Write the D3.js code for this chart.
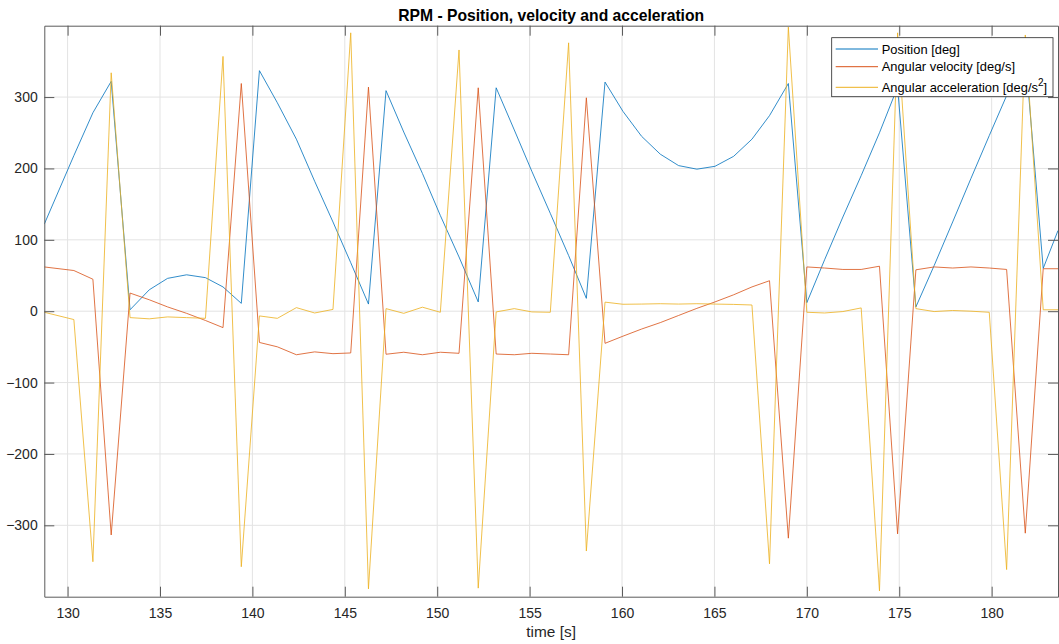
<!DOCTYPE html>
<html>
<head>
<meta charset="utf-8">
<script src="https://cdn.jsdelivr.net/npm/d3@7"></script>
<style>
	body { margin: 0; background: #fff; }
	svg { display: block; font-family: 'Liberation Sans', Arial, sans-serif; }
</style>
</head>
<body>
<svg id="chart" width="1059" height="644"></svg>
<script>
const time = [128.74, 130.34, 131.37, 132.36, 133.38, 134.42, 135.41, 136.44, 137.46, 138.41,
	139.40, 140.38, 141.35, 142.38, 143.37, 144.36, 145.32, 146.28, 147.23, 148.19,
	149.20, 150.17, 151.18, 152.22, 153.19, 154.17, 155.12, 156.12, 157.11, 158.07,
	159.08, 160.05, 161.06, 162.07, 163.06, 164.05, 165.03, 166.04, 167.03, 167.98,
	169.00, 170.00, 170.96, 171.95, 172.94, 173.93, 174.91, 175.90, 176.89, 177.89,
	178.88, 179.87, 180.81, 181.82, 182.79, 183.59];

const position = [122, 218, 278, 322, 2, 30, 46, 51, 47, 34,
	11, 337, 292, 241, 182, 125, 68, 10, 309, 251,
	193, 134, 76, 13, 313, 254, 196, 137, 78, 18,
	321, 280, 245, 220, 204, 199, 203, 217, 241, 274,
	319, 12, 72, 132, 190, 250, 314, 6, 64, 125,
	186, 246, 302, 360, 60, 113];

const velocity = [62, 57, 44.8, -313.5, 25.4, 16, 6, -3, -13, -23,
	319, -43.8, -49.9, -61, -57, -59.5, -58.5, 314, -60.3, -57.5,
	-61, -57.5, -59, 313, -60, -61, -59, -60, -61, 299,
	-45, -35, -25, -16, -6, 4, 13, 23, 34, 42.7,
	-318, 62, 60.5, 58.5, 58.5, 63, -312, 58, 62, 60.5,
	62, 60.5, 58.5, -311, 59.5, 59.5];

const acceleration = [-1.5, -11.7, -351, 334, -9, -10.7, -8, -9, -10, 357,
	-358, -6.6, -10, 5, -2.5, 2.5, 390, -389, 3.6, -3,
	5.6, -1.5, 366, -388, -1, 3.6, -1, -1.5, 376, -336,
	12.7, 9.7, 10, 10.5, 10, 10.5, 10, 9.5, 8.7, -354,
	398, -1.5, -2.5, -0.5, 4.6, -392, 390, 3.6, -0.5, 1,
	0, -1.5, -362, 387, 2, 2];

const seriesNames = ['Position [deg]', 'Angular velocity [deg/s]', 'Angular acceleration [deg/s'];
const seriesColors = ['#0072BD', '#D95319', '#EDB120'];
const xTicks = [130, 135, 140, 145, 150, 155, 160, 165, 170, 175, 180];
const yTicks = [-300, -200, -100, 0, 100, 200, 300];

let plotLeft = 44.3, plotRight = 1058, plotTop = 25.7, plotBottom = 596.7;

let svg = d3.select('#chart');

let x = d3.scaleLinear()
	.domain([128.74, 183.59])
	.range([plotLeft, plotRight]);

let y = d3.scaleLinear()
	.domain([-400, 400])
	.range([plotBottom, plotTop]);

// grid
let grid = svg.append('g').attr('class', 'grid');
grid.selectAll('line.vx')
	.data(xTicks)
	.enter()
	.append('line')
	.attr('x1', d => x(d)).attr('x2', d => x(d))
	.attr('y1', plotTop).attr('y2', plotBottom)
	.attr('stroke', '#e3e3e3');
grid.selectAll('line.hy')
	.data(yTicks)
	.enter()
	.append('line')
	.attr('x1', plotLeft).attr('x2', plotRight)
	.attr('y1', d => y(d)).attr('y2', d => y(d))
	.attr('stroke', '#e3e3e3');

svg.append('clipPath')
	.attr('id', 'plotclip')
	.append('rect')
	.attr('x', plotLeft).attr('y', plotTop)
	.attr('width', plotRight - plotLeft).attr('height', plotBottom - plotTop);

let line = d3.line()
	.x((d, i) => x(time[i]))
	.y(d => y(d));

let series = [position, velocity, acceleration];
svg.append('g')
	.attr('clip-path', 'url(#plotclip)')
	.selectAll('path')
	.data(series)
	.enter()
	.append('path')
	.attr('d', d => line(d))
	.attr('fill', 'none')
	.attr('stroke', (d, i) => seriesColors[i])
	.attr('stroke-width', 0.9)
	.attr('stroke-opacity', 0.9);

// axes, ticks pointing inward like matlab
let axisColor = '#5a5a5a';
function styleAxis(g) {
	g.select('.domain').attr('stroke', axisColor);
	g.selectAll('.tick line').attr('stroke', axisColor);
	g.selectAll('.tick text')
		.attr('fill', '#262626')
		.style('font-size', '14px')
		.style('font-family', "'Liberation Sans', Arial, sans-serif");
}

svg.append('g')
	.attr('transform', 'translate(0,' + plotBottom + ')')
	.call(d3.axisBottom(x).tickValues(xTicks).tickSize(-10).tickSizeOuter(0).tickPadding(11.5))
	.call(styleAxis);

svg.append('g')
	.attr('transform', 'translate(0,' + plotTop + ')')
	.call(d3.axisTop(x).tickValues(xTicks).tickSize(-10).tickSizeOuter(0).tickFormat(''))
	.call(styleAxis);

svg.append('g')
	.attr('transform', 'translate(' + plotLeft + ',0)')
	.call(d3.axisLeft(y).tickValues(yTicks).tickSize(-10).tickSizeOuter(0).tickPadding(6.6))
	.call(styleAxis);

svg.append('g')
	.attr('transform', 'translate(' + plotRight + ',0)')
	.call(d3.axisRight(y).tickValues(yTicks).tickSize(-10).tickSizeOuter(0).tickFormat(''))
	.call(styleAxis);

// title and label
svg.append('text')
	.attr('x', (plotLeft + plotRight) / 2)
	.attr('y', 20.5)
	.attr('text-anchor', 'middle')
	.style('font-size', '15.7px')
	.style('font-weight', 'bold')
	.attr('fill', '#000')
	.text('RPM - Position, velocity and acceleration');

svg.append('text')
	.attr('x', (plotLeft + plotRight) / 2)
	.attr('y', 637)
	.attr('text-anchor', 'middle')
	.style('font-size', '15.4px')
	.attr('fill', '#262626')
	.text('time [s]');

// legend
let legend = svg.append('g');
legend.append('rect')
	.attr('x', 831.7).attr('y', 37.7)
	.attr('width', 221.3).attr('height', 59)
	.attr('fill', '#fff')
	.attr('stroke', '#262626')
	.attr('stroke-width', 0.8);

let rowY = [49, 66.7, 87.3];
legend.selectAll('line')
	.data(seriesNames)
	.enter()
	.append('line')
	.attr('x1', 835.7).attr('x2', 878)
	.attr('y1', (d, i) => rowY[i]).attr('y2', (d, i) => rowY[i])
	.attr('stroke', (d, i) => seriesColors[i])
	.attr('stroke-width', 1);

let labels = legend.selectAll('text')
	.data(seriesNames)
	.enter()
	.append('text')
	.attr('x', 881.7)
	.attr('y', (d, i) => rowY[i] + 4.6)
	.style('font-size', '12.9px')
	.attr('fill', '#000')
	.text(d => d);

labels.filter((d, i) => i == 2)
	.append('tspan')
	.attr('dy', -5.5)
	.style('font-size', '10px')
	.text('2');
labels.filter((d, i) => i == 2)
	.append('tspan')
	.attr('dy', 5.5)
	.text(']');
</script>
</body>
</html>
